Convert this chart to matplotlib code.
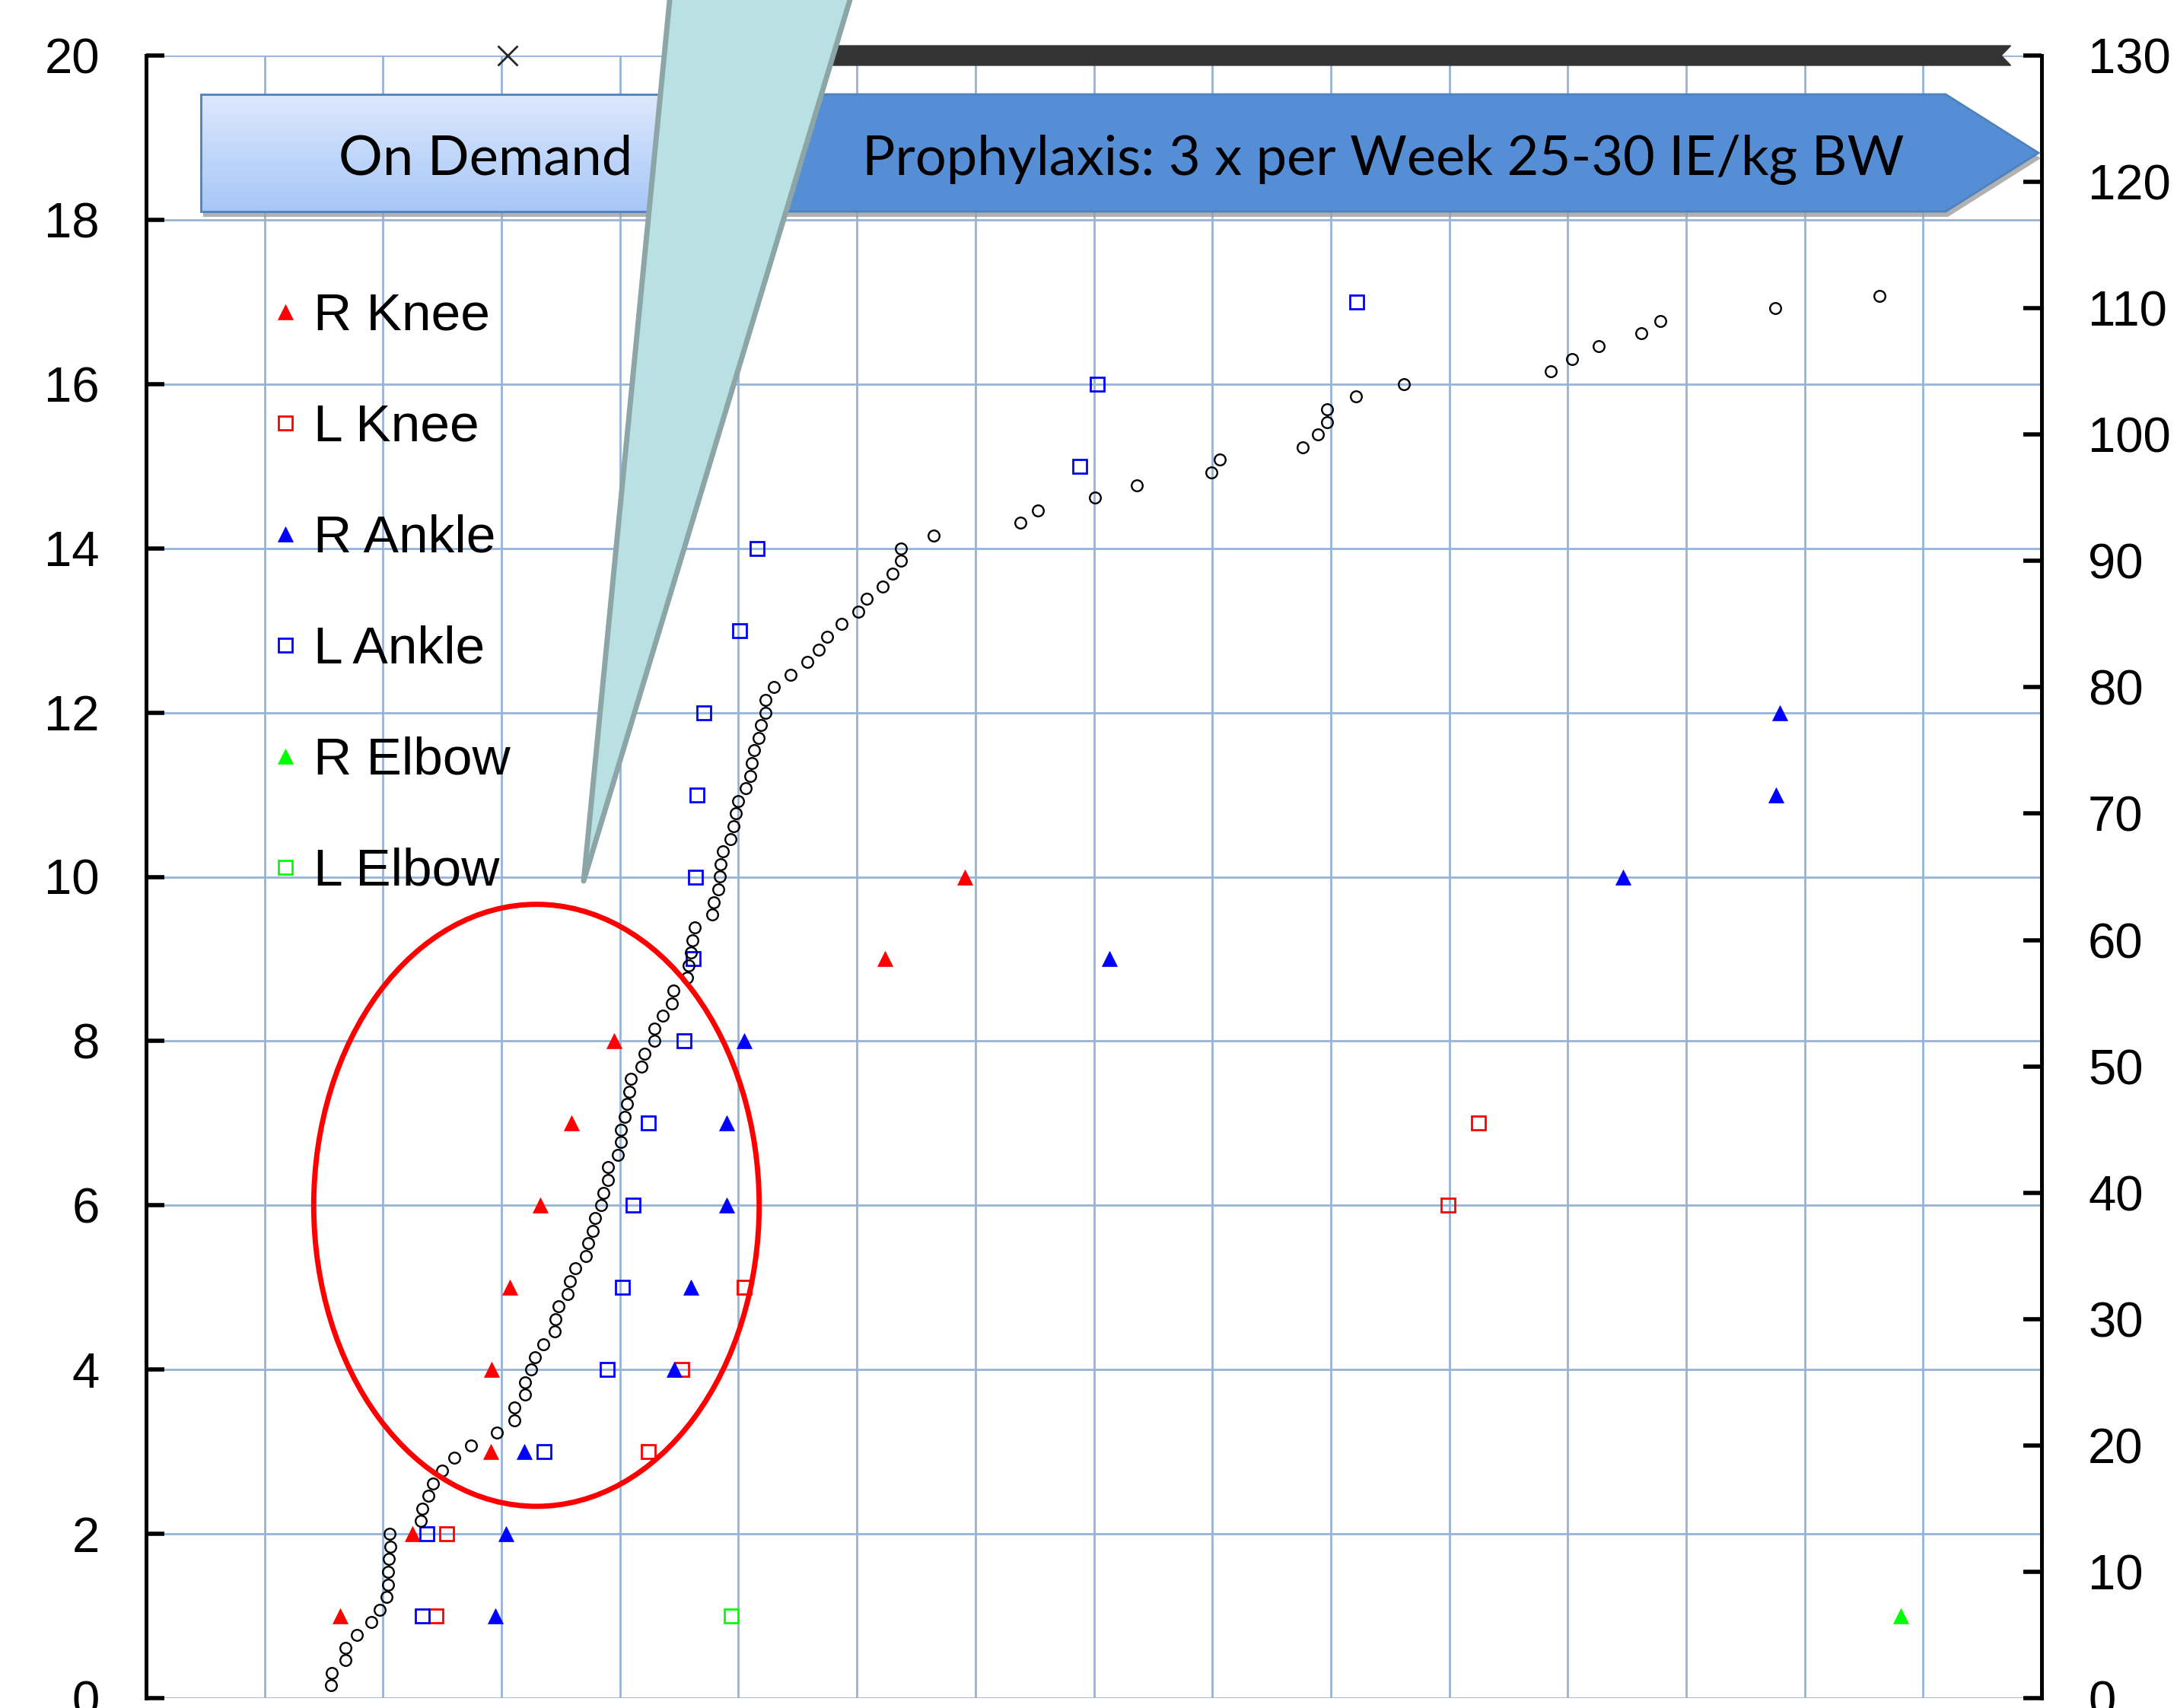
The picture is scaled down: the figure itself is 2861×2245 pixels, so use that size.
import matplotlib
matplotlib.use("Agg")
import matplotlib.pyplot as plt
import numpy as np
from matplotlib.patches import Polygon, Rectangle, Ellipse


# ============================================
# 1. Data
# ============================================

# cumulative count (right axis) against time (x)
cum_x = [1.56, 1.57, 1.68, 1.685, 1.78, 1.90, 1.97, 2.03, 2.04, 2.04,
         2.05, 2.06, 2.055, 2.32, 2.33, 2.38, 2.42, 2.50, 2.60, 2.74,
         2.96, 3.11, 3.11, 3.20, 3.20, 3.25, 3.28, 3.35, 3.45, 3.455,
         3.48, 3.56, 3.575, 3.62, 3.71, 3.73, 3.77, 3.79, 3.84, 3.86,
         3.90, 3.90, 3.98, 4.01, 4.01, 4.04, 4.06, 4.08, 4.09, 4.18,
         4.21, 4.29, 4.29, 4.36, 4.44, 4.45, 4.57, 4.58, 4.60, 4.61,
         4.63, 4.78, 4.79, 4.83, 4.84, 4.85, 4.87, 4.93, 4.96, 4.98,
         5.00, 5.06, 5.10, 5.11, 5.13, 5.17, 5.19, 5.23, 5.23, 5.30,
         5.44, 5.58, 5.68, 5.75, 5.87, 6.01, 6.08, 6.22, 6.30, 6.37,
         6.37, 6.65, 7.38, 7.53, 8.01, 8.36, 8.99, 9.06, 9.76, 9.89,
         9.97, 9.97, 10.21, 10.62, 11.86, 12.04, 12.26, 12.62, 12.78, 13.75,
         14.63]
cum_n = [1, 2, 3, 4, 5, 6, 7, 8, 9, 10,
         11, 12, 13, 14, 15, 16, 17, 18, 19, 20,
         21, 22, 23, 24, 25, 26, 27, 28, 29, 30,
         31, 32, 33, 34, 35, 36, 37, 38, 39, 40,
         41, 42, 43, 44, 45, 46, 47, 48, 49, 50,
         51, 52, 53, 54, 55, 56, 57, 58, 59, 60,
         61, 62, 63, 64, 65, 66, 67, 68, 69, 70,
         71, 72, 73, 74, 75, 76, 77, 78, 79, 80,
         81, 82, 83, 84, 85, 86, 87, 88, 89, 90,
         91, 92, 93, 94, 95, 96, 97, 98, 99, 100,
         101, 102, 103, 104, 105, 106, 107, 108, 109, 110,
         111]

# bleeds per joint (left axis)
rknee_x = [1.64, 2.25, 2.91, 2.915, 3.07, 3.33, 3.59, 3.95, 6.24, 6.91]
rknee_n = [1, 2, 3, 4, 5, 6, 7, 8, 9, 10]

lknee_x = [2.45, 2.54, 4.24, 4.52, 5.05, 10.99, 11.25]
lknee_n = [1, 2, 3, 4, 5, 6, 7]

rankle_x = [2.95, 3.04, 3.19, 4.46, 4.60, 4.90, 4.90, 5.05, 8.13, 12.47, 13.76, 13.79]
rankle_n = [1, 2, 3, 4, 5, 6, 7, 8, 9, 10, 11, 12]

lankle_x = [2.33, 2.37, 3.36, 3.89, 4.02, 4.11, 4.24, 4.54, 4.62, 4.64,
            4.65, 4.71, 5.01, 5.16, 7.88, 8.03, 10.22]
lankle_n = [1, 2, 3, 4, 5, 6, 7, 8, 9, 10, 11, 12, 13, 14, 15, 16, 17]

relbow_x = [14.81]
relbow_n = [1]

lelbow_x = [4.94]
lelbow_n = [1]

# switch marker and prophylaxis period bar (on the top line)
switch_x = 3.05
prophy_start = 5.5
prophy_end = 15.74

on_demand_text = "On Demand"
prophy_text = "Prophylaxis: 3 x per Week 25-30 IE/kg BW"


# ============================================
# 2. Styles
# ============================================

plt.rcParams["font.family"] = ["Liberation Sans", "DejaVu Sans"]

RED = "#FF0000"
BLUE = "#0000FF"
GREEN = "#00FF00"
GRID = "#95B3D7"

tri = dict(marker="^", markersize=14, markeredgewidth=0.5, linestyle="none")
sq = dict(marker="s", markersize=12.5, markeredgewidth=2, markerfacecolor="none", linestyle="none")

series = [
    ("R Knee", rknee_x, rknee_n, tri, RED),
    ("L Knee", lknee_x, lknee_n, sq, RED),
    ("R Ankle", rankle_x, rankle_n, tri, BLUE),
    ("L Ankle", lankle_x, lankle_n, sq, BLUE),
    ("R Elbow", relbow_x, relbow_n, tri, GREEN),
    ("L Elbow", lelbow_x, lelbow_n, sq, GREEN),
]


def style_for(st, color):
    s = dict(st)
    s["markeredgecolor"] = color
    if s["marker"] == "^":
        s["markerfacecolor"] = color
    return s


# ============================================
# 3. Figure and axes
# ============================================

W, H = 2861, 2245
fig = plt.figure(figsize=(W / 100, H / 100), dpi=100)

ax = fig.add_axes([192 / W, 13 / H, (2683 - 192) / W, (2232 - 73) / H])
ax.set_xlim(0, 16)
ax.set_ylim(0, 20)
ax.set_xticks(range(0, 17))
ax.set_yticks(range(0, 21, 2))
ax.grid(True, color=GRID, linewidth=2)
ax.set_axisbelow(True)
ax.tick_params(axis="x", length=0, labelbottom=False)
ax.tick_params(axis="y", direction="in", length=17, width=4, pad=44, labelsize=47)
for s in ["top", "bottom", "right"]:
    ax.spines[s].set_visible(False)
ax.spines["left"].set_linewidth(3.6)

for label, xs, ns, st, color in series:
    ax.plot(xs, ns, clip_on=False, zorder=4, **style_for(st, color))

# prophylaxis bar with notched end, and switch marker
bar_h = 0.12
notch = 0.08
ax.fill([prophy_start, prophy_end, prophy_end - notch, prophy_end, prophy_start],
        [20 - bar_h, 20 - bar_h, 20, 20 + bar_h, 20 + bar_h],
        color="#333333", clip_on=False, zorder=6)
ax.plot([switch_x], [20], marker="x", markersize=19, markeredgewidth=2,
        color="#262626", clip_on=False, zorder=6)

# right axis: cumulative count
ax2 = ax.twinx()
ax2.set_ylim(0, 130)
ax2.set_yticks(range(0, 131, 10))
ax2.tick_params(axis="y", direction="in", length=17, width=4, pad=44, labelsize=47)
for s in ["top", "bottom", "left"]:
    ax2.spines[s].set_visible(False)
ax2.spines["right"].set_linewidth(3.6)

ax2.plot(cum_x, cum_n, linestyle="none", marker="o", markersize=10.5,
         markerfacecolor="none", markeredgecolor="black", markeredgewidth=1.7,
         clip_on=False, zorder=5)

ax2.add_patch(Ellipse((3.295, 6.0), 3.76, 7.33, transform=ax.transData,
                      fill=False, edgecolor=RED, linewidth=5, zorder=7, clip_on=False))


# ============================================
# 4. Overlay: banners, callout, legend (pixel coords)
# ============================================

ov = fig.add_axes([0, 0, 1, 1], zorder=10)
ov.set_xlim(0, W)
ov.set_ylim(H, 0)
ov.axis("off")

split = 950
top, bot = 124, 278
pent = [(split, top), (2557, top), (2679, 201), (2557, bot), (split, bot)]

# shadow
shadow = [(264, top), (2557, top), (2679, 201), (2557, bot), (264, bot)]
ov.add_patch(Polygon([(x + 3, y + 7) for x, y in shadow], closed=True,
                     facecolor="#9E9E9E", edgecolor="none", alpha=0.8, zorder=1))

# on demand box with gradient
c_top = np.array([0.87, 0.91, 0.99])
c_bot = np.array([0.65, 0.78, 0.97])
g = np.linspace(0, 1, 256)[:, None, None]
grad = c_top + (c_bot - c_top) * g
ov.imshow(grad, extent=(264, split, bot, top), aspect="auto", zorder=2,
          interpolation="bilinear")
ov.add_patch(Rectangle((264, top), split - 264, bot - top, fill=False,
                       edgecolor="#4F81BD", linewidth=2, zorder=3))

# prophylaxis arrow
ov.add_patch(Polygon(pent, closed=True, facecolor="#558ED5", edgecolor="#4F81BD",
                     linewidth=2, zorder=3))

ov.text(638, 230, on_demand_text, fontsize=52, family=["Lato", "DejaVu Sans"],
        ha="center", va="baseline", zorder=4)
ov.text(1818, 230, prophy_text, fontsize=52, family=["Lato", "DejaVu Sans"],
        ha="center", va="baseline", zorder=4)
ov.set_xlim(0, W)
ov.set_ylim(H, 0)

# callout wedge
ov.add_patch(Polygon([(882, -20), (1123, -20), (767, 1158)], closed=True,
                     facecolor="#B9E0E2", edgecolor="#8CA6A7", linewidth=5,
                     joinstyle="round", zorder=20))

# legend
for i, (label, xs, ns, st, color) in enumerate(series):
    ov.plot([375], [410 + 146 * i], zorder=5, **style_for(st, color))
    ov.text(412, 434 + 146 * i, label, fontsize=50, ha="left", va="baseline", zorder=5)

plt.savefig("out.png", dpi=100)
print("saved out.png")
